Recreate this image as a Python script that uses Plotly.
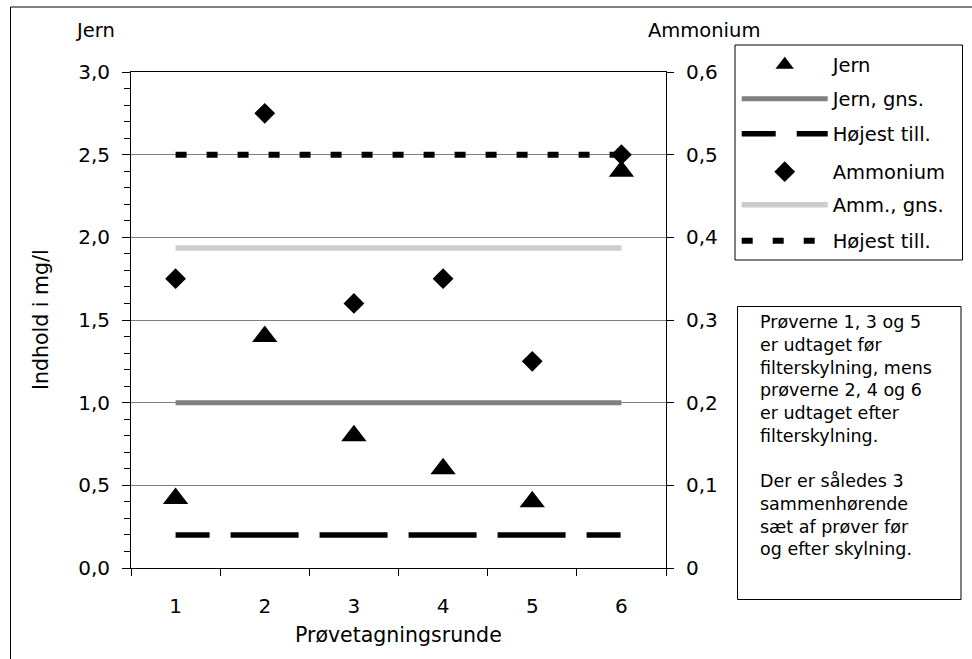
import plotly.graph_objects as go

# ---- data ----
rounds = ["1", "2", "3", "4", "5", "6"]
jern = [0.42, 1.40, 0.80, 0.60, 0.40, 2.40]
ammonium = [0.35, 0.55, 0.32, 0.35, 0.25, 0.50]
jern_gns = 1.0
amm_gns = 0.387
jern_max = 0.2
amm_max = 0.5
left_ticks = [0, 0.5, 1.0, 1.5, 2.0, 2.5, 3.0]
left_labels = ["0,0", "0,5", "1,0", "1,5", "2,0", "2,5", "3,0"]
right_ticks = [0, 0.1, 0.2, 0.3, 0.4, 0.5, 0.6]
right_labels = ["0", "0,1", "0,2", "0,3", "0,4", "0,5", "0,6"]
legend_names = ["Jern", "Jern, gns.", "Højest till.", "Ammonium", "Amm., gns.", "Højest till."]

FONT = "DejaVu Sans"
W, H = 972, 659
L, R, T, B = 131, 666, 72, 568


def px(x):
    return (x - L) / (R - L)


def py(y):
    return (B - y) / (B - T)


ends = [rounds[0], rounds[-1]]
fig = go.Figure()

# lines first (drawn below markers)
fig.add_trace(go.Scatter(x=ends, y=[jern_gns] * 2, mode="lines", name=legend_names[1],
                         line=dict(color="#808080", width=5), legend="legend2", yaxis="y"))
fig.add_trace(go.Scatter(x=ends, y=[jern_max] * 2, mode="lines", name=legend_names[2],
                         line=dict(color="black", width=5.5,
                                   dash="34px,21px,68px,21px,68px,21px,68px,21px,68px,21px,34px,60px"),
                         legend="legend3", yaxis="y"))
fig.add_trace(go.Scatter(x=rounds, y=jern, mode="markers", name=legend_names[0],
                         marker=dict(symbol="triangle-up", size=22, color="black"),
                         legend="legend", yaxis="y"))

fig.add_trace(go.Scatter(x=ends, y=[amm_gns] * 2, mode="lines", name=legend_names[4],
                         line=dict(color="#cdcdcd", width=5.5), legend="legend5", yaxis="y2"))
fig.add_trace(go.Scatter(x=ends, y=[amm_max] * 2, mode="lines", name=legend_names[5],
                         line=dict(color="black", width=6, dash="11px,20px"),
                         legend="legend6", yaxis="y2"))
fig.add_trace(go.Scatter(x=rounds, y=ammonium, mode="markers", name=legend_names[3],
                         marker=dict(symbol="diamond", size=16, color="black"),
                         legend="legend4", yaxis="y2"))

rows = [65, 99, 134, 172, 205, 241]
leg_common = dict(x=px(736.7), xanchor="left", yanchor="middle", bgcolor="rgba(0,0,0,0)",
                  borderwidth=0, itemwidth=86, font=dict(family=FONT, size=19.5, color="black"))
legends = {}
for i, yy in enumerate(rows):
    key = "legend" if i == 0 else f"legend{i + 1}"
    legends[key] = dict(leg_common, y=py(yy))

fig.update_layout(
    width=W, height=H,
    margin=dict(l=L, r=W - R, t=T, b=H - B, pad=0),
    paper_bgcolor="white", plot_bgcolor="white",
    font=dict(family=FONT, size=20, color="black"),
    showlegend=True,
    xaxis=dict(type="category", categoryorder="array", categoryarray=rounds,
               range=[-0.5, 5.5], tickson="boundaries", ticks="outside", ticklen=7,
               tickcolor="black", showline=True, linecolor="black", linewidth=1,
               mirror=True, showgrid=False, zeroline=False, ticklabelstandoff=20,
               tickfont=dict(family=FONT, size=20, color="black")),
    yaxis=dict(range=[0, 3], tickvals=left_ticks, ticktext=left_labels,
               ticks="outside", ticklen=8, tickcolor="black",
               minor=dict(dtick=0.1, tick0=0, ticks="outside", ticklen=6, tickcolor="black", showgrid=False),
               showline=True, linecolor="black", linewidth=1,
               showgrid=True, gridcolor="#808080", gridwidth=1, zeroline=False,
               ticklabelstandoff=8, tickfont=dict(family=FONT, size=20, color="black")),
    yaxis2=dict(range=[0, 0.6], tickvals=right_ticks, ticktext=right_labels,
                overlaying="y", side="right", ticks="outside", ticklen=7, tickcolor="black",
                showline=True, linecolor="black", linewidth=1, showgrid=False, zeroline=False,
                ticklabelstandoff=8, tickfont=dict(family=FONT, size=20, color="black")),
    **legends,
)

shapes = [
    # outer chart border
    dict(type="rect", xref="paper", yref="paper", x0=px(10.5), x1=px(1100), y0=py(800), y1=py(7),
         line=dict(color="black", width=1), fillcolor="rgba(0,0,0,0)", layer="below"),
    # legend box
    dict(type="rect", xref="paper", yref="paper", x0=px(735), x1=px(962.5), y0=py(260), y1=py(45),
         line=dict(color="black", width=1), fillcolor="rgba(0,0,0,0)"),
    # text box
    dict(type="rect", xref="paper", yref="paper", x0=px(737.5), x1=px(961), y0=py(599.5), y1=py(306.5),
         line=dict(color="black", width=1), fillcolor="rgba(0,0,0,0)"),
]
fig.update_layout(shapes=shapes)

note1 = "Prøverne 1, 3 og 5<br>er udtaget før<br>filterskylning, mens<br>prøverne 2, 4 og 6<br>er udtaget efter<br>filterskylning."
note2 = "Der er således 3<br>sammenhørende<br>sæt af prøver før<br>og efter skylning."

ann = [
    dict(text="Jern", x=px(95), y=py(31), xref="paper", yref="paper", showarrow=False,
         xanchor="center", yanchor="middle", font=dict(family=FONT, size=19.5, color="black")),
    dict(text="Ammonium", x=px(704), y=py(31), xref="paper", yref="paper", showarrow=False,
         xanchor="center", yanchor="middle", font=dict(family=FONT, size=19.5, color="black")),
    dict(text="Indhold i mg/l", x=px(41), y=py(320), xref="paper", yref="paper", showarrow=False,
         textangle=-90, xanchor="center", yanchor="middle", font=dict(family=FONT, size=20.5, color="black")),
    dict(text="Prøvetagningsrunde", x=0.5, y=py(635), xref="paper", yref="paper", showarrow=False,
         xanchor="center", yanchor="middle", font=dict(family=FONT, size=20.5, color="black")),
    dict(text=note1, x=px(758), y=py(379.2), xref="paper", yref="paper", showarrow=False,
         xanchor="left", yanchor="middle", align="left", font=dict(family=FONT, size=17.5, color="black")),
    dict(text=note2, x=px(758), y=py(514.5), xref="paper", yref="paper", showarrow=False,
         xanchor="left", yanchor="middle", align="left", font=dict(family=FONT, size=17.5, color="black")),
]
fig.update_layout(annotations=ann)

fig.write_html("out.html")
